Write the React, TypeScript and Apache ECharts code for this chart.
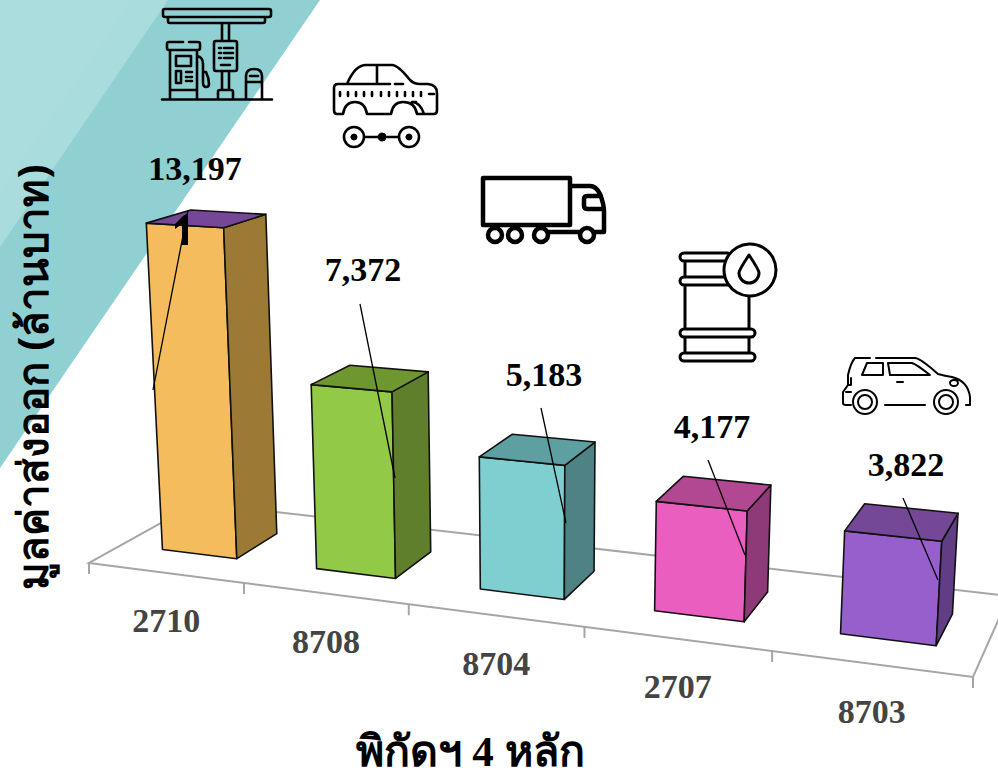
import React, { useEffect, useRef } from "react";
import * as echarts from "echarts";

const categories = ["2710", "8708", "8704", "2707", "8703"];
const exportValues = [13197, 7372, 5183, 4177, 3822];
const yTitle = "มูลค่าส่งออก (ล้านบาท)";
const xTitle = "พิกัดฯ 4 หลัก";

const frontColors = ["#F4BC5C", "#92CA48", "#7FCFD1", "#E95EBF", "#975FCB"];
const sideColors = ["#9C7A36", "#5F7F2C", "#4F8284", "#8F3A78", "#603D85"];
const topColors = ["#764797", "#6F9730", "#5E9FA1", "#B34892", "#744797"];

const labelCentres = [[195, 168], [363, 269], [544, 374], [712, 426], [906, 464]];
const leaders = [
  [188, 210, 153, 390],
  [360, 304, 395, 478],
  [541, 408, 566, 523],
  [708, 460, 745, 555],
  [903, 498, 938, 580],
];

// Floor quad corners (front-left, front-right, back-right, back-left) and vertical vanishing point
const floor = [[89, 563], [973, 677], [1009, 596], [197, 503]];
const vanish = [538, 8143];
const K = -1 / 7585;
const GRID_H = 338;
const GRID_W = 998;
const HALF_BAR = 0.049;
const DEPTH = [0.29, 0.69];

function makeProjector() {
  const [[x0, y0], [x1, y1], [x2, y2], [x3, y3]] = floor;
  const dx1 = x1 - x2, dx2 = x3 - x2, sx = x0 - x1 + x2 - x3;
  const dy1 = y1 - y2, dy2 = y3 - y2, sy = y0 - y1 + y2 - y3;
  const det = dx1 * dy2 - dx2 * dy1;
  const g = (sx * dy2 - dx2 * sy) / det;
  const h = (dx1 * sy - sx * dy1) / det;
  const a = x1 - x0 + g * x1, b = x3 - x0 + h * x3;
  const d = y1 - y0 + g * y1, e = y3 - y0 + h * y3;
  return (s: number, t: number, v: number) => {
    const w = g * s + h * t + 1 + K * v;
    return [
      (a * s + b * t + x0 + K * vanish[0] * v) / w,
      (d * s + e * t + y0 + K * vanish[1] * v) / w,
    ];
  };
}
const project = makeProjector();

const gasPath =
  "M165 9H269Q271 9 271 11V15Q271 17 269 17H165Q163 17 163 15V11Q163 9 165 9ZM168 17V21Q168 23 170 23H263Q265 23 265 21V17" +
  "M222 23V41M229 23V41M216 41H235Q237 41 237 43V69Q237 71 235 71H216Q214 71 214 69V43Q214 41 216 41Z" +
  "M219 48H221M224 48H233M219 53H221M224 53H233M219 58H221M224 58H233M221 65H230M222 71V90M229 71V90" +
  "M218 99V92Q218 90 220 90H231Q233 90 233 92V99M162 99.5H272" +
  "M169 42H183M189 42H198Q200 42 200 44V48Q200 50 198 50H169Q167 50 167 48V44Q167 42 169 42M170 50V99M197 50V99M170 90H197" +
  "M176 56H191V66H176ZM176 71H181V83H176ZM186 72H192M186 77H188M190 77H192M186 81H188M190 81H192" +
  "M197 56Q203 57 203 64V72H206Q209 78 209 84Q209 87 206 87Q203 87 203 82V72" +
  "M246 99V76Q246 69 254 69Q262 69 262 76V99M250 76H258M246 82H262";
const carPartsPath =
  "M347 84Q355 65 366 65H392Q398 65 410 80Q414 84 420 84H428Q437 85 437 93V110Q437 114 434 114H424Q420 102 412 102H416" +
  "M347 84H390M395 84H403M377 65V84M347 84H338Q334 84 334 88V110Q334 114 337 114H343Q345 102 355 102Q365 102 367 114H391Q393 102 403 102Q415 102 417 114H434" +
  "M340 92V96M348 92V96M356 92V96M364 92V96M372 92V96M381 92V96M389 92V96M397 92V96M405 92V96M413 92V96M421 92V96M429 94H434" +
  "M344 137A10 10 0 1 0 364 137A10 10 0 1 0 344 137ZM399 137A10 10 0 1 0 419 137A10 10 0 1 0 399 137ZM364 137H399";
const carDotsPath =
  "M351 137A3 3 0 1 0 357 137A3 3 0 1 0 351 137ZM406 137A3 3 0 1 0 412 137A3 3 0 1 0 406 137ZM378 137A4 4 0 1 0 386 137A4 4 0 1 0 378 137Z";
const truckPath =
  "M483 178H570V225H483ZM570 186H590Q596 186 600 194Q604 204 604 212V232H595M548 232H579M588 196H601M588 196Q584 196 584 199V206Q584 209 588 209H603" +
  "M488 235A7 7 0 1 0 502 235A7 7 0 1 0 488 235ZM508 235A7 7 0 1 0 522 235A7 7 0 1 0 508 235ZM534 235A7 7 0 1 0 548 235A7 7 0 1 0 534 235ZM580 235A7 7 0 1 0 594 235A7 7 0 1 0 580 235Z";
const barrelPath =
  "M684 253H728M684 261H726M684 253A4 4 0 0 0 684 261M684 277H726M684 285H728M684 277A4 4 0 0 0 684 285" +
  "M684 329H751A4 4 0 0 1 751 337H684A4 4 0 0 1 684 329ZM684 353H751A4 4 0 0 1 751 361H684A4 4 0 0 1 684 353Z" +
  "M685 261V277M685 285V329M685 337V353M749 297V329M749 337V353";
const dropPath =
  "M749 255Q739 270 739 273A10 10 0 0 0 759 273Q759 270 749 255Z";
const suvPath =
  "M855 358H870M876 358H915Q920 358 938 374Q945 376 952 377Q968 381 970 397V405M970 405H966M925 405H885" +
  "M855 358Q851 362 848 375V385L843 392V403Q843 405 846 405H851M848 385H851V378M846 392H851" +
  "M862 375L867 363H883V375ZM888 363H912Q916 364 930 375H890ZM897 382H903M950 383A4 3 0 1 0 958 383A4 3 0 1 0 950 383Z" +
  "M853 402A12 12 0 1 0 877 402A12 12 0 1 0 853 402ZM858 402A7 7 0 1 0 872 402A7 7 0 1 0 858 402Z" +
  "M934 402A12 12 0 1 0 958 402A12 12 0 1 0 934 402ZM939 402A7 7 0 1 0 953 402A7 7 0 1 0 939 402Z";
const oneMarkPath = "M188 213V245H182V224L175 229V224L183 216Z";

const shapes: Record<string, string> = {
  gasIcon: gasPath,
  carPartsIcon: carPartsPath,
  carDotsIcon: carDotsPath,
  truckIcon: truckPath,
  barrelIcon: barrelPath,
  dropIcon: dropPath,
  suvIcon: suvPath,
  oneMark: oneMarkPath,
};
Object.keys(shapes).forEach((k) => {
  echarts.graphic.registerShape(k, (echarts.graphic as any).extendPath(shapes[k], {}));
});

const iconEl = (type: string, lineWidth: number, fill = "none", z = 0) => ({
  type,
  x: 0,
  y: 0,
  z,
  silent: true,
  style: { fill, stroke: "#000", lineWidth, lineCap: "round", lineJoin: "round" },
});

export default function App() {
  const ref = useRef<HTMLDivElement>(null);
  useEffect(() => {
    const chart = echarts.init(ref.current!, undefined, { renderer: "svg" });
    const serif = '"Liberation Serif", serif';
    chart.setOption({
      animation: false,
      backgroundColor: "#fff",
      grid: { left: 0, top: 0, width: GRID_W, height: GRID_H },
      xAxis: { type: "category", data: categories, show: false },
      yAxis: { type: "value", min: 0, max: 14000, show: false },
      graphic: [
        { type: "polygon", z: 0, shape: { points: [[0, 0], [320, 0], [0, 468]] }, style: { fill: "#90D0D2" } },
        { type: "polygon", z: 0, shape: { points: [[0, 0], [168, 0], [0, 247]] }, style: { fill: "#A9DCDD" } },
        { type: "polygon", z: 0, shape: { points: [[0, 0], [132, 0], [0, 193]] }, style: { fill: "#ACDDDE" } },
        iconEl("gasIcon", 2.6),
        iconEl("carPartsIcon", 2.6),
        iconEl("carDotsIcon", 1, "#000"),
        iconEl("truckIcon", 4.5),
        iconEl("barrelIcon", 3),
        { type: "circle", z: 1, shape: { cx: 750, cy: 270, r: 26 }, style: { fill: "#fff", stroke: "#000", lineWidth: 3 } },
        iconEl("dropIcon", 3, "none", 2),
        iconEl("suvIcon", 2),
        {
          type: "text",
          z: 3,
          x: 31,
          y: 377,
          rotation: Math.PI / 2,
          style: {
            text: yTitle,
            font: 'bold 42px "Noto Sans", "DejaVu Sans", sans-serif',
            fill: "#000",
            textAlign: "center",
            textVerticalAlign: "middle",
          },
        },
        {
          type: "text",
          z: 3,
          x: 470,
          y: 751,
          style: {
            text: xTitle,
            font: 'bold 43px "Liberation Serif", "Noto Sans", sans-serif',
            fill: "#000",
            textAlign: "center",
            textVerticalAlign: "middle",
          },
        },
      ],
      series: [
        {
          type: "custom",
          coordinateSystem: "cartesian2d",
          silent: true,
          clip: false,
          z: 2,
          data: categories.map((_, i) => [i, 0]),
          renderItem: (_p: any, api: any) => {
            const i = api.value(0);
            const children: any[] = [];
            const line = { stroke: "#A6A6A6", lineWidth: 2 };
            if (i === 0) {
              const c = [project(0, 0, 0), project(1, 0, 0), project(1, 1, 0), project(0, 1, 0)];
              children.push({ type: "polygon", shape: { points: c }, style: { fill: "none", ...line } });
              const a = project(0, 0, 0);
              children.push({ type: "line", shape: { x1: a[0], y1: a[1], x2: a[0], y2: a[1] + 11 }, style: line });
            }
            const sR = (i + 1) / categories.length;
            const p = project(sR, 0, 0);
            children.push({ type: "line", shape: { x1: p[0], y1: p[1], x2: p[0], y2: p[1] + 11 }, style: line });
            const m = project((i + 0.5) / categories.length, 0, 0);
            children.push({
              type: "text",
              style: {
                text: categories[i],
                x: m[0] + 1,
                y: m[1] + 48,
                font: `bold 34px ${serif}`,
                fill: "#444444",
                textAlign: "center",
                textVerticalAlign: "middle",
              },
            });
            return { type: "group", children };
          },
        },
        {
          type: "custom",
          coordinateSystem: "cartesian2d",
          silent: true,
          clip: false,
          z: 3,
          data: exportValues.map((v, i) => [i, v]),
          renderItem: (_p: any, api: any) => {
            const i = api.value(0);
            const base = api.coord([i, 0]);
            const top = api.coord([i, api.value(1)]);
            const v = base[1] - top[1];
            const sc = base[0] / GRID_W + 0.003;
            const sL = sc - HALF_BAR, sR = sc + HALF_BAR;
            const [tF, tB] = DEPTH;
            const fl = project(sL, tF, 0), fr = project(sR, tF, 0), br = project(sR, tB, 0);
            const tfl = project(sL, tF, v), tfr = project(sR, tF, v), tbr = project(sR, tB, v), tbl = project(sL, tB, v);
            const edge = { stroke: "#111", lineWidth: 1.6, lineJoin: "round" };
            return {
              type: "group",
              children: [
                { type: "polygon", shape: { points: [fl, fr, tfr, tfl] }, style: { fill: frontColors[i], ...edge } },
                { type: "polygon", shape: { points: [fr, br, tbr, tfr] }, style: { fill: sideColors[i], ...edge } },
                { type: "polygon", shape: { points: [tfl, tfr, tbr, tbl] }, style: { fill: topColors[i], ...edge } },
              ],
            };
          },
        },
        {
          type: "custom",
          coordinateSystem: "cartesian2d",
          silent: true,
          clip: false,
          z: 4,
          data: exportValues.map((v, i) => [i, v]),
          renderItem: (_p: any, api: any) => {
            const i = api.value(0);
            const [x1, y1, x2, y2] = leaders[i];
            const [lx, ly] = labelCentres[i];
            const children: any[] = [
              { type: "line", shape: { x1, y1, x2, y2 }, style: { stroke: "#000", lineWidth: 1.3 } },
              {
                type: "text",
                style: {
                  text: api.value(1).toLocaleString("en-US"),
                  x: lx,
                  y: ly,
                  font: `bold 34px ${serif}`,
                  fill: "#000",
                  textAlign: "center",
                  textVerticalAlign: "middle",
                },
              },
            ];
            if (i === 0) {
              children.push({ type: "oneMark", style: { fill: "#000", stroke: "none" } });
            }
            return { type: "group", children };
          },
        },
      ],
    });
    return () => chart.dispose();
  }, []);
  return <div ref={ref} style={{ position: "fixed", left: 0, top: 0, width: 998, height: 774 }} />;
}
